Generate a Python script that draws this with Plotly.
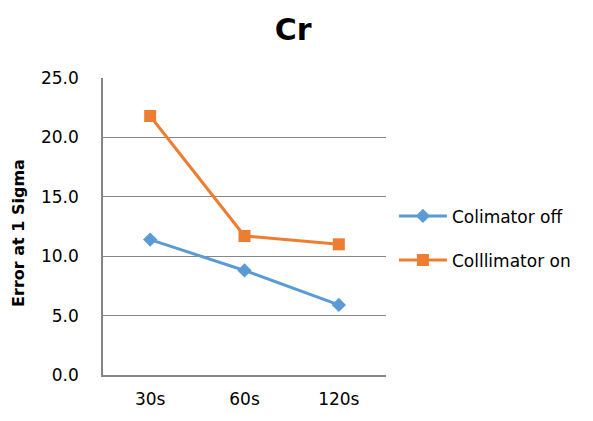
import plotly.graph_objects as go

categories = ["30s", "60s", "120s"]
colimator_off = [11.4, 8.8, 5.9]
collimator_on = [21.8, 11.7, 11.0]
y_ticks = [0, 5, 10, 15, 20, 25]
y_tick_labels = ["0.0", "5.0", "10.0", "15.0", "20.0", "25.0"]

FONT = "DejaVu Sans, Liberation Sans, sans-serif"

fig = go.Figure()
fig.add_trace(go.Scatter(
    x=categories, y=colimator_off, name="Colimator off", mode="lines+markers",
    line=dict(color="#5B9BD5", width=3),
    marker=dict(symbol="diamond", size=11, color="#5B9BD5"),
    legendgroup="a",
))
fig.add_trace(go.Scatter(
    x=categories, y=collimator_on, name="Colllimator on", mode="lines+markers",
    line=dict(color="#ED7D31", width=3),
    marker=dict(symbol="square", size=12, color="#ED7D31"),
    legendgroup="b",
))

fig.update_layout(
    width=593, height=421,
    margin=dict(l=95, r=215, t=70, b=54),
    paper_bgcolor="white", plot_bgcolor="white",
    font=dict(family=FONT, color="#000000"),
    title=dict(text="<b>Cr</b>", x=0.481, xanchor="center", y=0.95, yanchor="middle",
               font=dict(size=30, family=FONT, color="#000000")),
    showlegend=True,
    legend=dict(x=1.028, xanchor="left", y=0.46, yanchor="middle",
                font=dict(size=17), traceorder="grouped", tracegroupgap=19,
                itemwidth=48, bgcolor="rgba(0,0,0,0)"),
    annotations=[dict(
        text="<b>Error at 1 Sigma</b>", textangle=-90,
        xref="paper", yref="paper", x=-0.2986, y=0.48,
        xanchor="center", yanchor="middle", showarrow=False,
        font=dict(size=16, family=FONT, color="#000000"),
    )],
)
fig.update_xaxes(
    type="category", range=[-0.5, 2.5],
    showline=True, linecolor="#868686", linewidth=1.5,
    showgrid=False, ticks="outside", ticklen=8, tickcolor="rgba(0,0,0,0)",
    tickfont=dict(size=17),
)
fig.update_yaxes(
    range=[0, 25], tickvals=y_ticks, ticktext=y_tick_labels,
    showline=True, linecolor="#868686", linewidth=1.5,
    showgrid=True, gridcolor="#868686", gridwidth=1, zeroline=False,
    ticks="outside", ticklen=19, tickcolor="rgba(0,0,0,0)",
    tickfont=dict(size=17),
)

fig.write_html("out.html")
